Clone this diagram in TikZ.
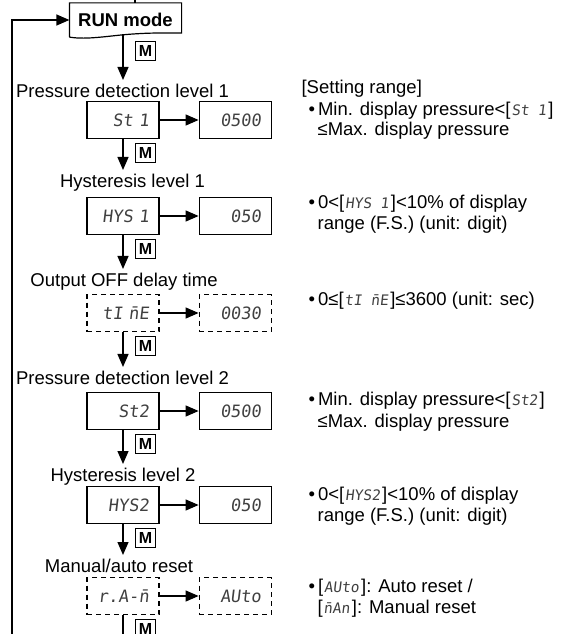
\documentclass[tikz,border=0pt]{standalone}
\usepackage{fontspec}
\setmainfont{Liberation Sans}
\newfontfamily\segfont[FakeSlant=0.12]{DejaVu Sans Mono}
\usetikzlibrary{arrows.meta, positioning, calc}
\definecolor{segc}{gray}{0.25}
\newcommand{\seg}[1]{{\fontsize{14.5}{16}\segfont\color{segc}\kern1pt#1\kern2pt}}

\begin{document}
\begin{tikzpicture}[x=1pt, y=-1pt, >={Triangle[length=13pt, width=11pt]}, node distance=39pt, line width=1.2pt, font=\fontsize{18.5}{21}\selectfont]
            \tikzset{dispbox/.style={draw, minimum width=72pt, minimum height=37pt, text width=52pt, inner xsep=10pt, align=right, text=segc, font=\fontsize{17}{20}\segfont},
                     dashbox/.style={dispbox, dash pattern=on 5pt off 4pt},
                     mkey/.style={draw, line width=1pt, minimum width=20pt, minimum height=19pt, inner sep=0pt, font=\fontsize{16}{16}\selectfont\bfseries},
                     lbl/.style={anchor=base, inner sep=3pt},
                     note/.style={anchor=base west, inner sep=0pt}}
            \path[use as bounding box] (0,0) rectangle (561,634);
            \clip (0,0) rectangle (561,634);
            % mode box with wavy bottom
            \node[minimum width=111pt, minimum height=33pt, inner sep=0pt, font=\fontsize{18.5}{21}\selectfont\bfseries] (run) at (125.5,20) {RUN mode};
            \draw (run.south west) -- (run.north west) -- (run.north east) -- ([yshift=4pt]run.south east)
                .. controls +(-22pt,0pt) and +(22pt,1.5pt) .. ([xshift=-50pt,yshift=3pt]run.south east)
                .. controls +(-22pt,-1.5pt) and +(18pt,-3pt) .. (run.south west);
            % setting items
            \node[lbl] (l1) at (122.5,97) {Pressure detection level 1};
            \node[dispbox] (st1) at (123,120) {St 1};
            \node[dispbox, right=of st1] (v1) {0500};
            \node[lbl] (l2) at (132.5,187) {Hysteresis level 1};
            \node[dispbox] (hys1) at (123,216) {HYS 1};
            \node[dispbox, right=of hys1] (v2) {050};
            \node[lbl] (l3) at (124,286) {Output OFF delay time};
            \node[dashbox] (tim) at (123,313) {tI n̄E};
            \node[dashbox, right=of tim] (v3) {0030};
            \node[lbl] (l4) at (122.5,384) {Pressure detection level 2};
            \node[dispbox] (st2) at (123,411) {St2};
            \node[dispbox, right=of st2] (v4) {0500};
            \node[lbl] (l5) at (123,481) {Hysteresis level 2};
            \node[dispbox] (hys2) at (123,505) {HYS2};
            \node[dispbox, right=of hys2] (v5) {050};
            \node[lbl] (l6) at (119,572) {Manual/auto reset};
            \node[dashbox] (ram) at (123,596) {r.A-n̄};
            \node[dashbox, right=of ram] (v6) {AUto};
            \coordinate (rb) at (run.south -| st1);
            \coordinate (tp) at (135,-10);
            \coordinate (lp) at (12,660);
            \coordinate (endp) at (123,660);
            % M keys
            \node[mkey, below right=4pt and 12pt of rb] (m1) {M};
            \node[mkey, below right=4pt and 12pt of st1.south] (m2) {M};
            \node[mkey, below right=4pt and 12pt of hys1.south] (m3) {M};
            \node[mkey, below right=4pt and 12pt of tim.south] (m4) {M};
            \node[mkey, below right=4pt and 12pt of st2.south] (m5) {M};
            \node[mkey, below right=4pt and 12pt of hys2.south] (m6) {M};
            \node[mkey, below right=4pt and 12pt of ram.south] (m7) {M};
            % connectors
            \draw (tp) -- (tp |- run.north);
            \draw[->] (lp) |- (run.west);
            \draw[->] ([yshift=3pt]rb) -- (rb |- l1.north);
            \draw[->] (st1) -- (v1);
            \draw[->] (st1.south) -- (st1 |- l2.north);
            \draw[->] (hys1) -- (v2);
            \draw[->] (hys1.south) -- (hys1 |- l3.north);
            \draw[->] (tim) -- (v3);
            \draw[->] (tim.south) -- (tim |- l4.north);
            \draw[->] (st2) -- (v4);
            \draw[->] (st2.south) -- (st2 |- l5.north);
            \draw[->] (hys2) -- (v5);
            \draw[->] (hys2.south) -- (hys2 |- l6.north);
            \draw[->] (ram) -- (v6);
            \draw (ram.south) -- (endp);
            % setting ranges
            \node[note] (hdr) at (301,93) {[Setting range]};
            \node[note] (a1) at (308,115) {•\hspace{3pt}Min. display pressure<[\seg{St 1}]};
            \node[note] (a2) at (317,135) {≤Max. display pressure};
            \node[note] (b1) at (308,208) {•\hspace{3pt}0<[\seg{HYS 1}]<10\% of display};
            \node[note] (b2) at (317,229) {range (F.S.) (unit: digit)};
            \node[note] (c1) at (308,305) {•\hspace{3pt}0≤[\seg{tI n̄E}]≤3600 (unit: sec)};
            \node[note] (d1) at (308,405) {•\hspace{3pt}Min. display pressure<[\seg{St2}]};
            \node[note] (d2) at (317,427) {≤Max. display pressure};
            \node[note] (e1) at (308,500) {•\hspace{3pt}0<[\seg{HYS2}]<10\% of display};
            \node[note] (e2) at (317,521) {range (F.S.) (unit: digit)};
            \node[note] (f1) at (308,592) {•\hspace{3pt}[\seg{AUto}]: Auto reset /};
            \node[note] (f2) at (317,613) {[\seg{n̄An}]: Manual reset};
        \end{tikzpicture}
\end{document}
